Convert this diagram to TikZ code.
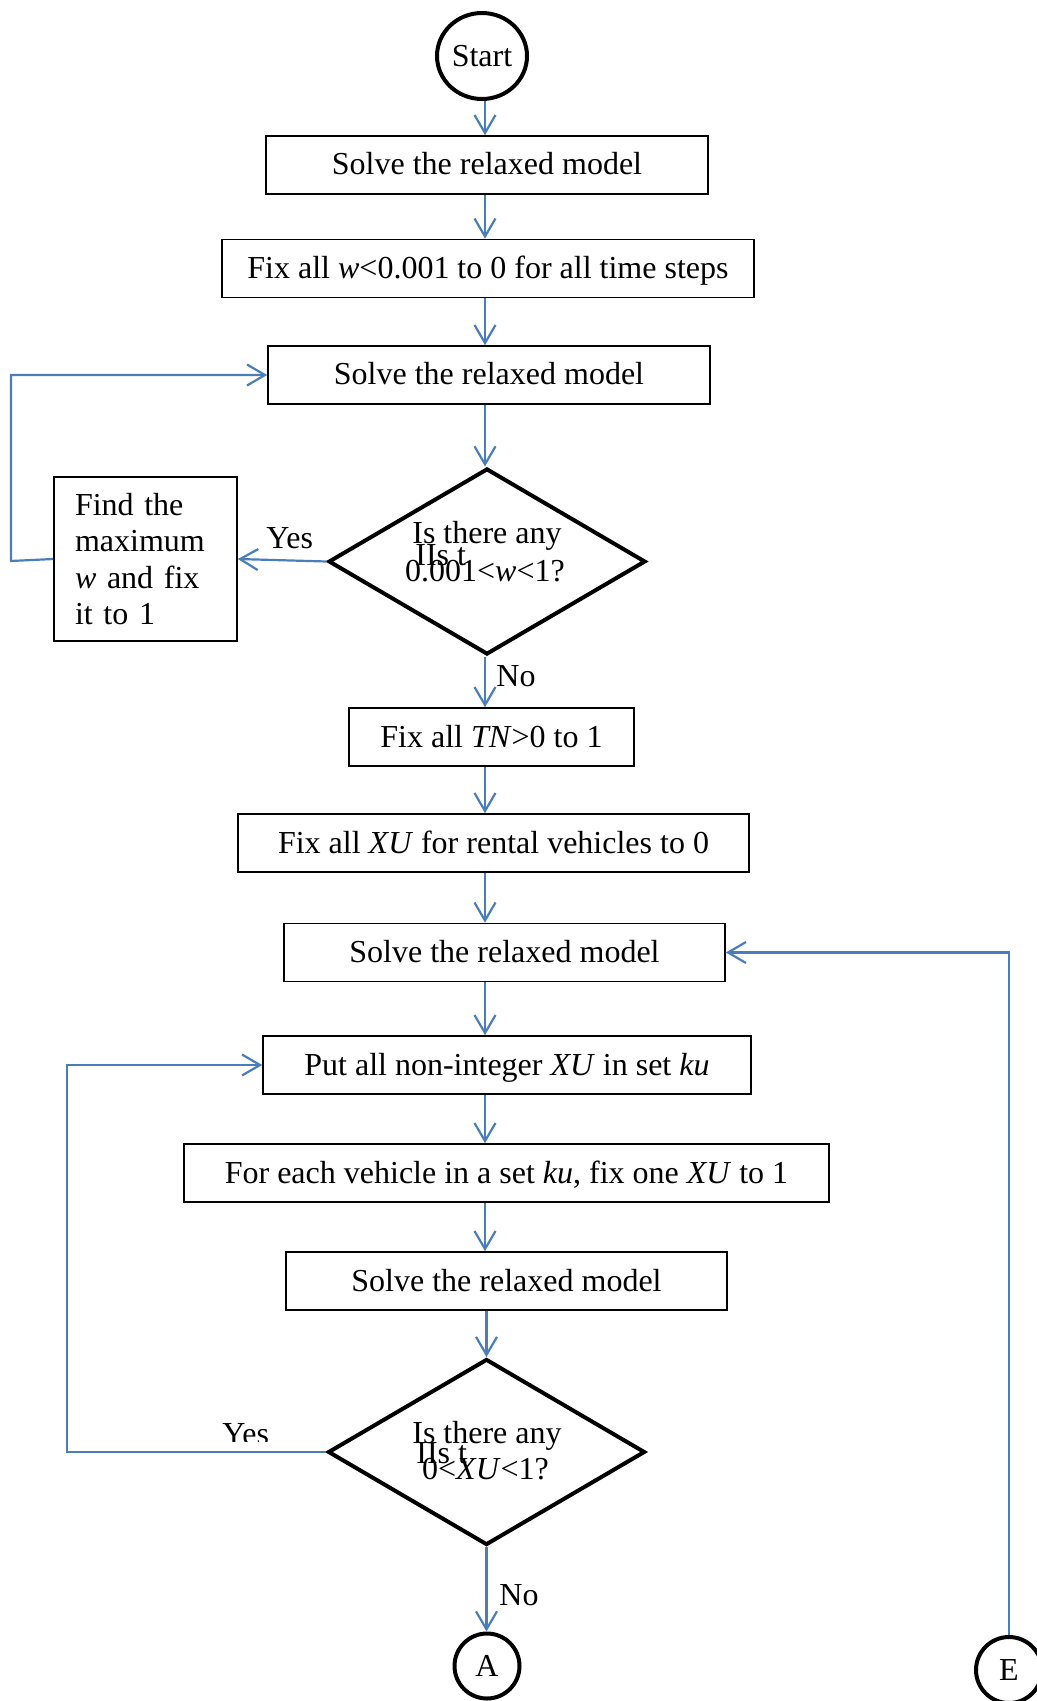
\documentclass[tikz,border=0pt]{standalone}
\usepackage{fontspec}
\setmainfont{Liberation Serif}
\usetikzlibrary{arrows.meta,shapes.geometric}
\definecolor{flowblue}{HTML}{4A7EBB}
\begin{document}
\begin{tikzpicture}[x=0.5pt,y=-0.5pt,
  every node/.style={font=\fontsize{16}{19}\selectfont},
  procbox/.style={draw=black,line width=0.8pt,minimum height=29pt,text height=11pt,text depth=1pt,inner sep=0pt},
  decision/.style={draw=black,line width=2pt,diamond,minimum width=158.5pt,minimum height=93pt,inner sep=0pt},
  terminal/.style={draw=black,line width=2pt,ellipse,inner sep=0pt},
  flow/.style={draw=flowblue,line width=1.1pt,-{Straight Barb[length=9pt,width=10.5pt]}},
  edgetext/.style={anchor=base west,inner sep=0pt},
  qtext/.style={anchor=base,inner sep=0pt}
]
\useasboundingbox (0,0) rectangle (1037,1701);
\coordinate (col) at (485,0);

% nodes
\node[terminal,minimum width=45pt,minimum height=43pt] (start) at (482,56) {Start};
\node[procbox,minimum width=221pt] (b1) at (487,165) {Solve the relaxed model};
\node[procbox,minimum width=266pt] (b2) at (488,268.5) {Fix all \textit{w}<0.001 to 0 for all time steps};
\node[procbox,minimum width=221pt] (b3) at (489,375) {Solve the relaxed model};
\node[decision] (d1) at (487,561.5) {};
\node[qtext] (q1a) at (487,543) {Is there any};
\node[qtext] (q1b) at (485,581) {0.001<\textit{w}<1?};
\node[edgetext] (q1c) at (415,565) {IIs t};
\node[draw=black,line width=0.8pt,minimum width=91.5pt,minimum height=82pt,text width=70.5pt,align=left,inner xsep=10.5pt,inner ysep=0pt,font=\fontsize{16}{18.3}\selectfont] (find) at (145.5,559) {Find the\\ maximum\\ \textit{w} and fix\\ it to 1};
\node[procbox,minimum width=142.5pt] (b4) at (491.5,737) {Fix all \textit{TN}>0 to 1};
\node[procbox,minimum width=255.5pt] (b5) at (493.5,843) {Fix all \textit{XU} for rental vehicles to 0};
\node[procbox,minimum width=220.5pt] (b6) at (504.5,952.5) {Solve the relaxed model};
\node[procbox,minimum width=244pt] (b7) at (507,1065) {Put all non-integer \textit{XU} in set \textit{ku}};
\node[procbox,minimum width=322.5pt] (b8) at (506.5,1173) {For each vehicle in a set \textit{ku}, fix one \textit{XU} to 1};
\node[procbox,minimum width=220.5pt] (b9) at (506.5,1281) {Solve the relaxed model};
\node[decision] (d2) at (486.5,1452) {};
\node[qtext] (q2a) at (487,1443) {Is there any};
\node[qtext] (q2b) at (485.5,1479) {0<\textit{XU}<1?};
\node[edgetext] (q2c) at (416,1463) {IIs t};
\node[terminal,minimum width=32.5pt,minimum height=32.5pt] (A) at (487,1666) {A};
\node[terminal,minimum width=33pt,minimum height=33pt] (E) at (1009,1670) {E};

\coordinate (l1) at (11,561);
\coordinate (l2) at (67,1452);

% connectors
\draw[flow] (start.south -| col) -- (b1.north -| col);
\draw[flow] (b1.south -| col) -- (b2.north -| col);
\draw[flow] (b2.south -| col) -- (b3.north -| col);
\draw[flow] (b3.south -| col) -- (d1.north -| col);
\draw[flow] (d1.west) -- (find.east);
\draw[flow] (find.west) -- (l1) |- (b3.west);
\draw[flow] (d1.south -| col) -- (b4.north -| col);
\draw[flow] (b4.south -| col) -- (b5.north -| col);
\draw[flow] (b5.south -| col) -- (b6.north -| col);
\draw[flow] (b6.south -| col) -- (b7.north -| col);
\draw[flow] (b7.south -| col) -- (b8.north -| col);
\draw[flow] (b8.south -| col) -- (b9.north -| col);
\draw[flow] (b9.south -| d2.north) -- (d2.north);
\draw[flow] (d2.west) -- (l2) |- (b7.west);
\draw[flow] (d2.south) -- (d2.south |- A.north);
\draw[flow] (E.north) |- (b6.east);

% edge labels
\node[edgetext] (yes1) at (266,548) {Yes};
\node[edgetext] (no1) at (496,686) {No};
\begin{scope}
  \clip (200,1380) rectangle (320,1441);
  \node[edgetext] (yes2) at (222,1444) {Yes};
\end{scope}
\node[edgetext] (no2) at (499,1605) {No};
\end{tikzpicture}
\end{document}
